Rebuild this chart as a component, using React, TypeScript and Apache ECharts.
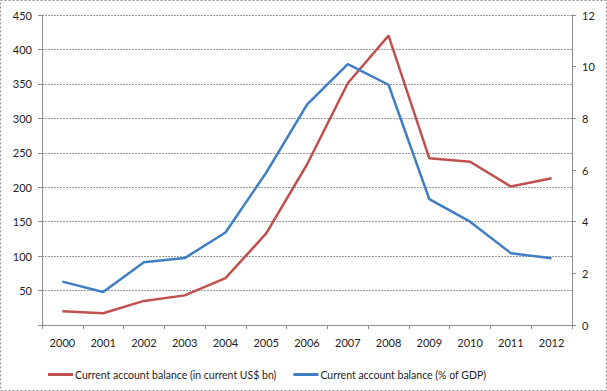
import React, { useEffect, useRef } from "react";
import * as echarts from "echarts";

const years = ["2000","2001","2002","2003","2004","2005","2006","2007","2008","2009","2010","2011","2012"];
const usdBn = [20, 17, 35, 43, 68, 133, 233, 351, 420, 242, 237, 201, 213];
const pctGdp = [1.68, 1.28, 2.43, 2.59, 3.58, 5.9, 8.53, 10.1, 9.3, 4.87, 4.0, 2.78, 2.58];
const seriesNames = ["Current account balance (in current US$ bn)", "Current account balance (% of GDP)"];

export default function App() {
  const ref = useRef<HTMLDivElement>(null);
  useEffect(() => {
    document.body.style.margin = "0";
    const chart = echarts.init(ref.current!, undefined, { renderer: "svg" });
    const font = "Lato, 'Liberation Sans', sans-serif";
    const axisLine = { show: true, lineStyle: { color: "#8c8c8c", width: 1 } };
    chart.setOption({
      animation: false,
      backgroundColor: "#fff",
      textStyle: { fontFamily: font },
      grid: { left: 42, right: 35, top: 15, bottom: 66 },
      legend: {
        top: 364,
        left: 43,
        itemWidth: 25,
        itemHeight: 3,
        itemGap: 17,
        icon: "rect",
        textStyle: { fontSize: 10.5, color: "#222", fontFamily: font, padding: [0, 0, 0, -3] },
        data: seriesNames,
      },
      xAxis: {
        type: "category",
        data: years,
        boundaryGap: true,
        axisLine,
        axisTick: { show: true, length: 4, lineStyle: { color: "#8c8c8c" } },
        axisLabel: { color: "#222", fontSize: 11, margin: 12 },
      },
      yAxis: [
        {
          type: "value",
          min: 0,
          max: 450,
          interval: 50,
          position: "left",
          axisLine,
          axisTick: { show: true, length: 4, lineStyle: { color: "#8c8c8c" } },
          axisLabel: { color: "#222", fontSize: 11, margin: 10, formatter: (v: number) => (v === 0 ? "" : String(v)) },
          splitLine: { show: true, lineStyle: { color: "#999", type: [2, 1], width: 1 } },
        },
        {
          type: "value",
          min: 0,
          max: 12,
          interval: 2,
          position: "right",
          axisLine,
          axisTick: { show: true, length: 4, lineStyle: { color: "#8c8c8c" } },
          axisLabel: { color: "#222", fontSize: 11, margin: 10 },
          splitLine: { show: false },
        },
      ],
      series: [
        {
          name: seriesNames[0],
          type: "line",
          data: usdBn,
          yAxisIndex: 0,
          symbol: "none",
          color: "#C0504D",
          lineStyle: { width: 2.5, color: "#C0504D" },
        },
        {
          name: seriesNames[1],
          type: "line",
          data: pctGdp,
          yAxisIndex: 1,
          symbol: "none",
          color: "#3F7DC4",
          lineStyle: { width: 2.5, color: "#3F7DC4" },
        },
      ],
      graphic: [
        {
          type: "rect",
          shape: { x: 0.5, y: 0.5, width: 606, height: 390 },
          style: { fill: "none", stroke: "#8c8c8c", lineWidth: 1, lineDash: [2, 2] },
          silent: true,
        },
      ],
    });
    return () => chart.dispose();
  }, []);
  return <div ref={ref} style={{ position: "absolute", left: 0, top: 0, width: 607, height: 391 }} />;
}
